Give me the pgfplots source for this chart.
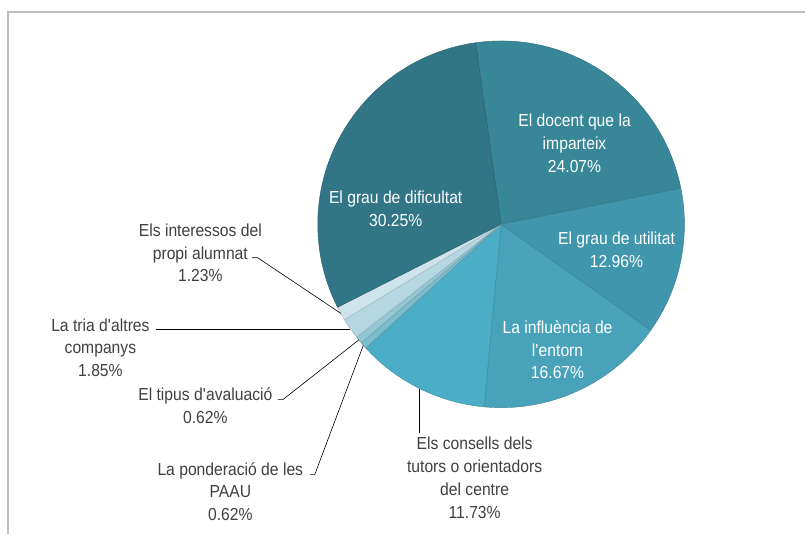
\documentclass[border=0pt]{standalone}
\usepackage{fontspec}
\setmainfont{Liberation Sans}[FakeStretch=0.9]
\usepackage{pgfplots}
\usepackage{pgfplotstable}
\pgfplotsset{compat=1.18}

\definecolor{cDoc}{HTML}{388799}
\definecolor{cUti}{HTML}{4096AC}
\definecolor{cInf}{HTML}{48A3BA}
\definecolor{cCon}{HTML}{4BADC6}
\definecolor{cPon}{HTML}{7BBCCD}
\definecolor{cTip}{HTML}{94C7D5}
\definecolor{cTri}{HTML}{B4D7E1}
\definecolor{cInt}{HTML}{CEE4EB}
\definecolor{cDif}{HTML}{327587}
\definecolor{txt}{HTML}{404040}
\definecolor{frame}{HTML}{BFBFBF}

% share of each answer, clockwise from the top
\pgfplotstableread{
pct   col
24.07 cDoc
12.96 cUti
16.67 cInf
11.73 cCon
0.62  cPon
0.62  cTip
1.85  cTri
1.23  cInt
30.25 cDif
}\piedata

\begin{document}
\begin{tikzpicture}[
    lbl/.style={font=\fontsize{17.5}{23}\selectfont, align=center, inner sep=0pt},
]
\begin{axis}[
    at={(0,0)}, anchor=south west,
    scale only axis,
    width=806bp, height=534bp,
    xmin=0, xmax=806, ymin=0, ymax=534,
    hide axis, clip=false,
]
\path (axis cs:0,0) rectangle (axis cs:806,534);
\draw[frame, line width=1.3pt] (axis cs:8,0) -- (axis cs:8,522) -- (axis cs:806,522);

\pgfplotsextra{
  \pgfplotstablegetrowsof{\piedata}
  \pgfmathtruncatemacro\nrows{\pgfplotsretval-1}
  \xdef\angA{98}
  \foreach \i in {0,...,\nrows}{
    \pgfplotstablegetelem{\i}{pct}\of\piedata \let\slicepct\pgfplotsretval
    \pgfplotstablegetelem{\i}{col}\of\piedata \let\slicecol\pgfplotsretval
    \pgfmathsetmacro\angB{\angA-3.6*\slicepct}
    \filldraw[fill=\slicecol, draw=\slicecol!80!black, line width=0.4pt, line join=round]
      (axis cs:501.5,309.5) -- ++(\angA:183.5bp)
      arc[start angle=\angA, end angle=\angB, radius=183.5bp] -- cycle;
    \xdef\angA{\angB}
  }
}

% labels inside the pie
\node[lbl, white] at (axis cs:575,391) {El docent que la\\imparteix\\24.07\%};
\node[lbl, white] at (axis cs:396,325) {El grau de dificultat\\30.25\%};
\node[lbl, white] at (axis cs:617,284) {El grau de utilitat\\12.96\%};
\node[lbl, white] at (axis cs:558,184) {La influència de\\l\textquotesingle entorn\\16.67\%};

% leader lines
\draw[black, line width=0.6pt] (axis cs:252,276) -- (axis cs:258,276) -- (axis cs:341.2,220.3);
\draw[black, line width=0.6pt] (axis cs:156,204) -- (axis cs:350.6,204);
\draw[black, line width=0.6pt] (axis cs:278,134) -- (axis cs:283,134) -- (axis cs:359.1,193.8);
\draw[black, line width=0.6pt] (axis cs:310,59) -- (axis cs:315,59) -- (axis cs:363.6,188.4);
\draw[black, line width=0.6pt] (axis cs:420,145) -- (axis cs:420,101);

% labels outside the pie
\node[lbl, txt] at (axis cs:200.5,281) {Els interessos del\\propi alumnat\\1.23\%};
\node[lbl, txt] at (axis cs:100.5,186) {La tria d\textquotesingle altres\\companys\\1.85\%};
\node[lbl, txt] at (axis cs:205.5,128) {El tipus d\textquotesingle avaluació\\0.62\%};
\node[lbl, txt] at (axis cs:230.5,42) {La ponderació de les\\PAAU\\0.62\%};
\node[lbl, txt] at (axis cs:475,56) {Els consells dels\\tutors o orientadors\\del centre\\11.73\%};
\end{axis}
\end{tikzpicture}
\end{document}
